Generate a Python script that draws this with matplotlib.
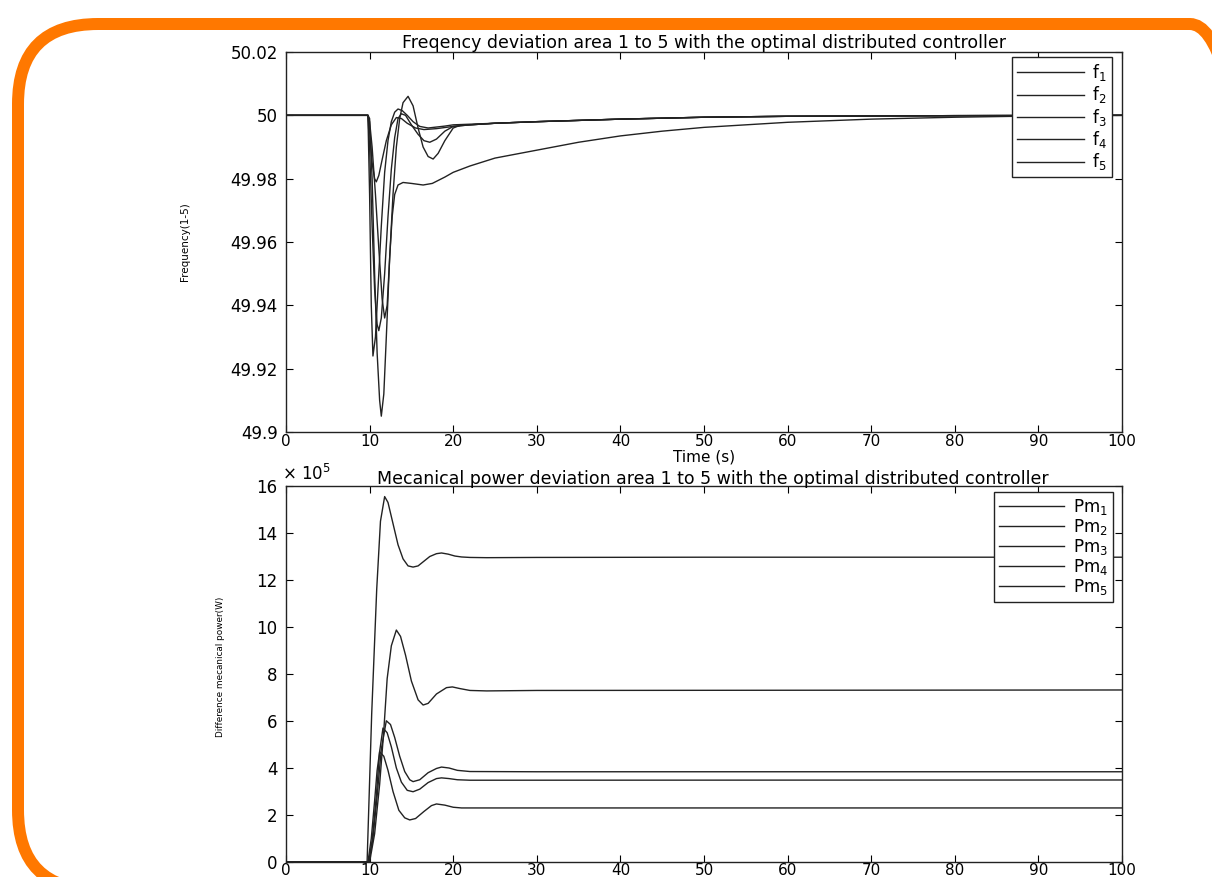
import numpy as np
import matplotlib
matplotlib.use('Agg')
import matplotlib.pyplot as plt
from matplotlib.patches import FancyBboxPatch
from matplotlib.ticker import FuncFormatter

# Frecuencia de las 5 areas (Hz)
t_f1 = [0, 9.8, 10.0, 10.2, 10.4, 10.7, 11.0, 11.4, 11.8, 12.2, 12.6, 13.0, 13.4, 13.9, 14.5,
        15.2, 16.0, 17.0, 18.0, 19.0, 20, 22, 25, 30, 40, 50, 60, 80, 100]
f1 = [50, 50, 49.975, 49.94, 49.924, 49.93, 49.945, 49.965, 49.982, 49.992, 49.998, 50.001,
      50.002, 50.0015, 50.0, 49.998, 49.9965, 49.996, 49.9963, 49.9966, 49.997, 49.9972,
      49.9975, 49.998, 49.9988, 49.9994, 49.9997, 49.9999, 50.0]

t_f2 = [0, 9.8, 10.0, 10.3, 10.6, 10.8, 11.1, 11.5, 12.0, 12.6, 13.2, 13.8, 14.5, 15.5, 16.5,
        18, 20, 22, 25, 30, 40, 50, 60, 80, 100]
f2 = [50, 50, 49.995, 49.985, 49.98, 49.979, 49.981, 49.986, 49.992, 49.997, 49.9993, 49.999,
      49.9975, 49.996, 49.9955, 49.9958, 49.9965, 49.997, 49.9975, 49.998, 49.9988, 49.9994,
      49.9997, 49.9999, 50.0]

t_f3 = [0, 9.8, 10.0, 10.3, 10.6, 10.9, 11.2, 11.4, 11.7, 12.0, 12.4, 12.8, 13.2, 13.6, 14.0,
        14.6, 15.2, 15.8, 16.4, 17.0, 17.6, 18.2, 19.0, 20.0, 21.0, 22, 25, 30, 40, 50, 60, 80, 100]
f3 = [50, 50, 49.999, 49.98, 49.95, 49.925, 49.91, 49.905, 49.912, 49.93, 49.955, 49.975,
      49.99, 49.999, 50.004, 50.006, 50.003, 49.996, 49.99, 49.987, 49.9862, 49.988, 49.992,
      49.996, 49.997, 49.997, 49.9975, 49.998, 49.9988, 49.9994, 49.9997, 49.9999, 50.0]

t_f4 = [0, 9.8, 10.0, 10.3, 10.7, 11.1, 11.5, 11.8, 12.1, 12.4, 12.7, 13.0, 13.4, 14, 15, 16.4,
        17.5, 19, 20, 22, 25, 30, 35, 40, 45, 50, 60, 70, 80, 90, 100]
f4 = [50, 50, 49.998, 49.99, 49.975, 49.958, 49.942, 49.936, 49.94, 49.955, 49.968, 49.975,
      49.978, 49.9788, 49.9785, 49.978, 49.9785, 49.9805, 49.982, 49.984, 49.9865, 49.989,
      49.9915, 49.9935, 49.995, 49.9962, 49.9978, 49.9988, 49.9994, 49.9998, 50.0]

t_f5 = [0, 9.8, 10.0, 10.3, 10.6, 10.9, 11.1, 11.4, 11.8, 12.2, 12.6, 13.0, 13.4, 13.8, 14.3,
        15.0, 15.8, 16.5, 17.2, 18.0, 19.0, 20, 22, 25, 30, 40, 50, 60, 80, 100]
f5 = [50, 50, 49.99, 49.965, 49.945, 49.934, 49.932, 49.936, 49.95, 49.968, 49.983, 49.993,
      49.999, 50.0005, 50.0, 49.997, 49.994, 49.992, 49.9915, 49.9925, 49.995, 49.9965,
      49.997, 49.9975, 49.998, 49.9988, 49.9994, 49.9997, 49.9999, 50.0]

# Potencia mecanica (x 10^5 W)
t_p1 = [0, 9.7, 10.25, 10.85, 11.3, 11.8, 12.2, 12.8, 13.4, 14.0, 14.6, 15.2, 15.8, 16.5,
        17.2, 18.0, 18.6, 19.4, 20.2, 21, 22, 24, 30, 50, 100]
p1 = [0, 0, 6.3, 11.6, 14.5, 15.55, 15.3, 14.4, 13.5, 12.9, 12.6, 12.55, 12.6, 12.8, 13.0,
      13.12, 13.15, 13.1, 13.02, 12.98, 12.96, 12.95, 12.96, 12.97, 12.97]

t_p2 = [0, 10.0, 10.6, 11.2, 11.7, 12.1, 12.6, 13.2, 13.7, 14.3, 15.0, 15.8, 16.4, 17.0, 18.0,
        19.2, 19.9, 20.8, 22, 24, 30, 100]
p2 = [0, 0, 1.2, 3.3, 5.6, 7.8, 9.2, 9.87, 9.6, 8.8, 7.7, 6.9, 6.68, 6.75, 7.15, 7.42, 7.45,
      7.38, 7.3, 7.28, 7.3, 7.32]

t_p3 = [0, 9.9, 10.4, 10.9, 11.4, 12.0, 12.5, 13.0, 13.6, 14.2, 14.8, 15.2, 16.0, 17.0, 18.0,
        18.6, 19.5, 20.5, 22, 30, 100]
p3 = [0, 0, 1.0, 2.8, 4.8, 6.01, 5.85, 5.3, 4.5, 3.85, 3.5, 3.42, 3.5, 3.8, 3.98, 4.04, 4.0,
      3.9, 3.85, 3.84, 3.84]

t_p4 = [0, 9.9, 10.3, 10.8, 11.2, 11.6, 12.1, 12.6, 13.2, 13.8, 14.5, 15.2, 16.0, 17.0, 18.0,
        18.6, 19.5, 20.5, 22, 100]
p4 = [0, 0, 0.9, 2.8, 4.7, 5.7, 5.5, 4.9, 4.0, 3.4, 3.05, 2.99, 3.1, 3.38, 3.55, 3.58, 3.55,
      3.5, 3.48, 3.49]

t_p5 = [0, 9.8, 10.2, 10.6, 10.9, 11.2, 11.7, 12.2, 12.8, 13.5, 14.2, 14.8, 15.5, 16.5, 17.4,
        18.0, 19.0, 20.0, 21, 100]
p5 = [0, 0, 1.0, 2.6, 3.9, 4.69, 4.5, 3.9, 3.0, 2.2, 1.88, 1.79, 1.85, 2.15, 2.4, 2.47, 2.42,
      2.33, 2.3, 2.3]

freq_series = [(t_f1, f1), (t_f2, f2), (t_f3, f3), (t_f4, f4), (t_f5, f5)]
pm_series = [(t_p1, p1), (t_p2, p2), (t_p3, p3), (t_p4, p4), (t_p5, p5)]
freq_labels = ['f$_1$', 'f$_2$', 'f$_3$', 'f$_4$', 'f$_5$']
pm_labels = ['Pm$_1$', 'Pm$_2$', 'Pm$_3$', 'Pm$_4$', 'Pm$_5$']

plt.rcParams['font.family'] = ['DejaVu Sans']
plt.rcParams['mathtext.fontset'] = 'dejavusans'

W, H = 1212, 877
fig = plt.figure(figsize=(W / 100, H / 100), dpi=100)
fig.patch.set_facecolor('white')

# Marco naranja redondeado (coordenadas en pixeles, origen abajo a la izquierda)
frame = fig.add_axes([0, 0, 1, 1])
frame.set_xlim(0, W)
frame.set_ylim(0, H)
frame.axis('off')
frame.add_patch(FancyBboxPatch((18, H - 890), 1252, 866,
                               boxstyle="round,pad=0,rounding_size=80",
                               fill=False, ec='#FF7800', lw=12 * 0.72))

def estilo_matlab(ax):
    ax.tick_params(direction='in', top=True, right=True, length=5, width=0.8,
                   labelsize=12, pad=6)
    ax.tick_params(axis='x', labelsize=11)
    for s in ax.spines.values():
        s.set_linewidth(1.0)
        s.set_color('#222222')

ax1 = fig.add_axes([286 / W, 1 - 432 / H, 836 / W, 380 / H])
for (t, f), lab in zip(freq_series, freq_labels):
    ax1.plot(t, f, color='#222222', lw=1.0, label=lab)
ax1.set_xlim(0, 100)
ax1.set_ylim(49.9, 50.02)
ax1.set_xticks(np.arange(0, 101, 10))
ax1.set_yticks(np.arange(49.9, 50.021, 0.02))
ax1.yaxis.set_major_formatter(FuncFormatter(lambda v, p: '%g' % round(v, 2)))
estilo_matlab(ax1)
ax1.tick_params(axis='x', pad=1.5)
ax1.set_title('Freqency deviation area 1 to 5 with the optimal distributed controller',
              fontsize=12.5, pad=3)
ax1.set_xlabel('Time (s)', fontsize=11, labelpad=0)
ax1.set_ylabel('Frequency(1-5)', fontsize=7.5)
ax1.yaxis.set_label_coords(-0.115, 0.5)
leg1 = ax1.legend(loc='upper right', bbox_to_anchor=(1 - 10 / 836, 1 - 5 / 380),
                  borderaxespad=0, fancybox=False, framealpha=1, edgecolor='#222222',
                  fontsize=12, handlelength=4.0, labelspacing=0.08, borderpad=0.3,
                  handletextpad=0.5)
leg1.get_frame().set_linewidth(1.0)

ax2 = fig.add_axes([286 / W, 1 - 862 / H, 836 / W, 376 / H])
for (t, p), lab in zip(pm_series, pm_labels):
    ax2.plot(t, p, color='#222222', lw=1.0, label=lab)
ax2.set_xlim(0, 100)
ax2.set_ylim(0, 16)
ax2.set_xticks(np.arange(0, 101, 10))
ax2.set_yticks(np.arange(0, 17, 2))
estilo_matlab(ax2)
ax2.tick_params(axis='x', pad=0.5)
ax2.set_title('Mecanical power deviation area 1 to 5 with the optimal distributed controller',
              fontsize=12.5, pad=1.5, x=0.51)
ax2.text(-0.005, 1.006, '× 10$^5$', transform=ax2.transAxes, fontsize=12,
         ha='left', va='bottom')
ax2.set_ylabel('Difference mecanical power(W)', fontsize=6.4)
ax2.yaxis.set_label_coords(-0.073, 0.52)
leg2 = ax2.legend(loc='upper right', bbox_to_anchor=(1 - 9 / 836, 1 - 6 / 376),
                  borderaxespad=0, fancybox=False, framealpha=1, edgecolor='#222222',
                  fontsize=12, handlelength=3.9, labelspacing=0.0, borderpad=0.3,
                  handletextpad=0.55)
leg2.get_frame().set_linewidth(1.0)

fig.savefig('out.png', dpi=100, facecolor='white')
